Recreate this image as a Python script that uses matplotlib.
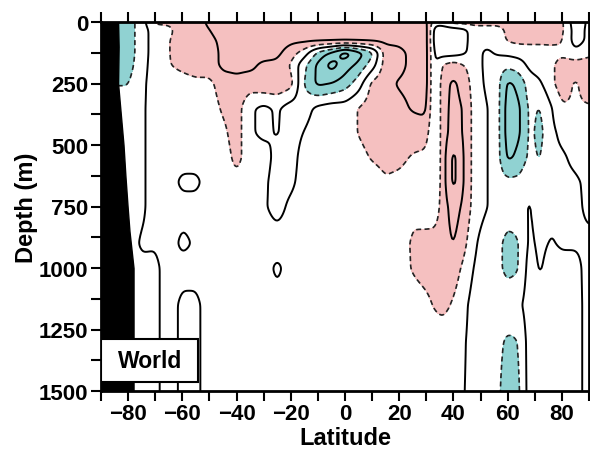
import numpy as np
import matplotlib
matplotlib.use("Agg")
import matplotlib.pyplot as plt
from matplotlib.patches import Rectangle

plt.rcParams['font.family'] = ['Liberation Sans', 'DejaVu Sans']
plt.rcParams['font.weight'] = 'bold'

# grid (latitude columns, depth rows)
lats = [-90, -85, -80, -75, -70, -65, -60, -55, -50, -45, -40, -35, -30, -25, -20,
        -15, -10, -5, 0, 5, 10, 15, 20, 25, 30, 33, 36, 40, 44, 48, 52, 56, 60, 64,
        68, 72, 76, 80, 85, 90]
depths = [0, 30, 75, 125, 175, 250, 350, 450, 550, 650, 750, 900, 1000, 1150, 1300, 1500]

# values in contour units: 0 solid, +-2 dashed (shading edge), +-4 / +-6 solid
d0 = [-3, -3, -3, -1, 2.5, 2.5, 3, 3, 4.5, 5, 5, 5, 5, 5, 5, 5, 5, 5, 5, 5, 5, 5, 5, 5, 4.5, 1, 1, 3, 3, 3, 3, 3, 3, 3, 3, 3, 3, 2.5, -1.5, 0.5]
d30 = [-3, -3, -3, -1, 1, 1.5, 3, 3, 4, 5, 5, 5, 5, 5, 5, 5, 5, 5, 5, 5, 5, 5, 5, 5, 5, -1, -1, -1, -0.5, 1, 1, 1, 2.5, 3, 3, 3, 3, 2.5, -1, 0.5]
d75 = [-3, -3, -3, -1, 1, 1.9, 3, 3, 3.5, 4.5, 5, 5, 5, 5, 4.5, 4.5, 4.5, 4.5, 4.5, 4.5, 4.5, 4.5, 4.5, 5, 5, -1, -2.3, -1, -0.5, 1, 0.8, 1, 2.2, 2.5, 2.5, 2.5, 2.5, 2.2, -1, 0.5]
d125 = [-3, -3, -3, -1, 1, 1.9, 3, 3, 3, 4.5, 4.5, 5, 5, 4.5, 3, 1, -2.5, -4.5, -7.2, -5, -2.5, 3, 3.5, 4.5, 5, -0.5, -1, -1, -0.3, 1, -0.5, 0.3, 0.5, 0.8, 1, 1, 1.2, 1.5, 0.5, 1.5]
d175 = [-2.8, -2.8, -2.8, -0.8, 1, 1.9, 2.5, 3, 3, 4.5, 4.5, 4.5, 3.5, 3.5, 1.8, -1.5, -4.5, -6.9, -5, -3.5, -1, 3, 3.5, 4.5, 5, -0.5, 2.2, 3, 2, 1, -0.5, -1.2, -1.5, -1, 0.5, 1, 1.5, 3, 3, 3]
d250 = [-2.1, -2.1, -2.1, -0.5, 1, 1, 1.2, 1.5, 1.5, 3, 3.5, 3, 3.5, 3.5, 2.8, -2.2, -4.5, -4, -3, -1, 2.5, 3.5, 4.2, 4.5, 5, -0.5, 3, 4.5, 3, 1, -0.3, -1, -4.5, -3.5, -1, -0.3, 1.5, 3, 1.7, 3]
d350 = [-1, -1, -1, -0.4, 1, 1, 1, 1, 1, 2.3, 3, 0.3, -0.5, 0.3, -1, -0.8, 0.5, 1, 1, 2.1, 3, 3, 3.5, 4.2, 4.5, -0.5, 3, 4.8, 3.8, 1, 0.2, -1, -5, -4.5, -1.5, -2.2, -0.2, 1.8, 1.8, 1.8]
d450 = [-1, -1, -1, -0.4, 1, 1, 1, 1, 1, 1.5, 3, 0.3, -0.5, 0.2, -1, 0.1, 1, 1, 1, 2.1, 3, 3, 3, 3, 3, -0.5, 3, 5, 3.8, 1, 0.2, -1, -5, -4.5, -1.5, -2.6, -0.5, 0.5, 1, 1]
d550 = [-1, -1, -1, -0.4, 1, 1, 1, 1, 1, 1, 2.6, 1, 1, -0.8, -1, 1, 1, 1, 1, 1.3, 2.2, 2.6, 2.5, 1.8, 1.5, -0.5, 3, 6.8, 3.8, 1, 0.2, -1, -4.5, -3.5, -1.5, -2.2, -0.5, -0.3, 0.5, 1]
d650 = [-1, -1, -1, -0.4, 1, 1, -0.5, -0.5, 1, 1, 1.5, 1, 0.5, -1, -0.5, 1, 1, 1, 1, 1, 1, 1.8, 1.5, 1, 1, -0.3, 3, 6.8, 3.8, 1, 0.2, -1, -1.5, -1.5, -0.5, -1.5, -0.5, -0.5, -0.3, 0.5]
d750 = [-1, -1, -1, -0.4, 1, 1, 0.8, 0.8, 1, 1, 1, 1, 0.3, -0.8, 0.5, 1, 1, 1, 1, 1, 1, 1, 1, 1.5, 1.2, 0.5, 3, 5, 3.5, 1, 0.2, -1, -1.2, -1, 0.3, -1.2, -0.5, -0.5, -0.5, 0.5]
d900 = [-1, -1, -1, 0.3, 0.2, 1, -0.5, 0.3, 1, 1, 1, 1, 1, 1, 1, 1, 1, 1, 1, 1, 1, 1, 1, 2.3, 2.5, 3, 3, 4.2, 2.5, 0.2, -1, -1.5, -2.5, -2.2, 0.5, -0.5, 0.2, -0.3, -0.3, -0.5]
d1000 = [-1, -1, -1, -0.5, -0.5, 1, 0.8, 0.8, 1, 1, 1, 1, 1, -0.5, 1, 1, 1, 1, 1, 1, 1, 1, 1, 2.2, 2.8, 3, 3, 3, 1.5, -0.3, -1, -1.5, -2.5, -2.2, 1, -0.3, 1, 0.8, 0.8, -1]
d1150 = [-1, -1, -1, -0.5, -0.5, 1, -0.5, -0.5, 1, 1, 1, 1, 1, 0.8, 1, 1, 1, 1, 1, 1, 1, 1, 1, 1, 1.5, 2.2, 2.5, 1.8, 0.5, -1, -1, -1, -1, -0.5, 1, 1, 1, 1, 1, -1]
d1300 = [-1, -1, -1, -0.5, -0.5, 1, -0.5, -0.5, 1, 1, 1, 1, 1, 1, 1, 1, 1, 1, 1, 1, 1, 1, 1, 0.8, 0.8, 0.8, 1, 0.8, 0.2, -1, -1, -1.5, -2.3, -2.1, 1, 1, 1, 1, 1, -1]
d1500 = [-1, -1, -1, -0.5, -0.5, 1, -0.5, -0.5, 1, 1, 1, 1, 1, 1, 1, 1, 1, 1, 1, 1, 1, 1, 1, 0.8, 0.8, 0.8, 0.8, 0.5, 0.1, -1, -1, -1.5, -3, -2.5, 1, 1, 1, 1, 1, -1]

field = np.array([d0, d30, d75, d125, d175, d250, d350, d450, d550, d650,
                  d750, d900, d1000, d1150, d1300, d1500], dtype=float)

# Antarctic land edge
mask_depth = [0, 100, 250, 400, 500, 625, 750, 850, 1000, 1250, 1500]
mask_edge = [-83.7, -83.5, -83.7, -82.5, -81.7, -81, -80.2, -79.5, -78, -78, -78]

pink = '#f5c0c0'
cyan = '#90d2d2'


def smooth_grid(lat, dep, z, nx=361, ny=301, sx=2, sy=2):
    # linear resample onto a fine grid, then a small gaussian blur
    fx = np.linspace(lat[0], lat[-1], nx)
    fy = np.linspace(dep[0], dep[-1], ny)
    tmp = np.array([np.interp(fx, lat, row) for row in z])
    fine = np.array([np.interp(fy, dep, col) for col in tmp.T]).T
    def kern(s):
        k = np.arange(-3 * s, 3 * s + 1)
        g = np.exp(-0.5 * (k / s) ** 2)
        return g / g.sum()
    kx, ky = kern(sx), kern(sy)
    p = np.pad(fine, ((0, 0), (3 * sx, 3 * sx)), mode='edge')
    fine = np.array([np.convolve(r, kx, mode='valid') for r in p])
    p = np.pad(fine, ((3 * sy, 3 * sy), (0, 0)), mode='edge')
    fine = np.array([np.convolve(c, ky, mode='valid') for c in p.T]).T
    return fx, fy, fine


fx, fy, fz = smooth_grid(lats, depths, field)

fig = plt.figure(figsize=(5.9, 4.52), dpi=100)
ax = fig.add_axes([101/590, 60/452, 488/590, 369/452])

X, Y = np.meshgrid(fx, fy)
ax.contourf(X, Y, fz, levels=[2, 100], colors=[pink])
ax.contourf(X, Y, fz, levels=[-100, -2], colors=[cyan])
ax.contour(X, Y, fz, levels=[-6, -4, 0, 4, 6], colors='k', linewidths=1.4,
           linestyles='solid')
ax.contour(X, Y, fz, levels=[-2, 2], colors='#222222', linewidths=1.2,
           linestyles=[(0, (3, 2))])

ax.fill_betweenx(mask_depth, -90, mask_edge, color='k', zorder=3)

ax.add_patch(Rectangle((0.0, 0.024), 0.199, 0.117, transform=ax.transAxes,
                       fc='white', ec='k', lw=1.5, zorder=5))
ax.text(0.1, 0.083, 'World', transform=ax.transAxes, ha='center', va='center',
        fontsize=16.5, fontweight='bold', zorder=6)

ax.set_xlim(-90, 90)
ax.set_ylim(1500, 0)
ax.set_xticks(np.arange(-80, 81, 20))
ax.set_xticks(np.arange(-90, 91, 10), minor=True)
ax.set_yticks(np.arange(0, 1501, 250))
ax.set_yticks(np.arange(0, 1501, 125), minor=True)
ax.tick_params(which='both', direction='out', length=7, width=1.5,
               top=True, labelsize=16, pad=2)
for s in ax.spines.values():
    s.set_linewidth(2)
ax.set_xlabel('Latitude', fontsize=17, fontweight='bold', labelpad=1)
ax.set_ylabel('Depth (m)', fontsize=17, fontweight='bold', labelpad=1)

fig.savefig('out.png', dpi=100)
